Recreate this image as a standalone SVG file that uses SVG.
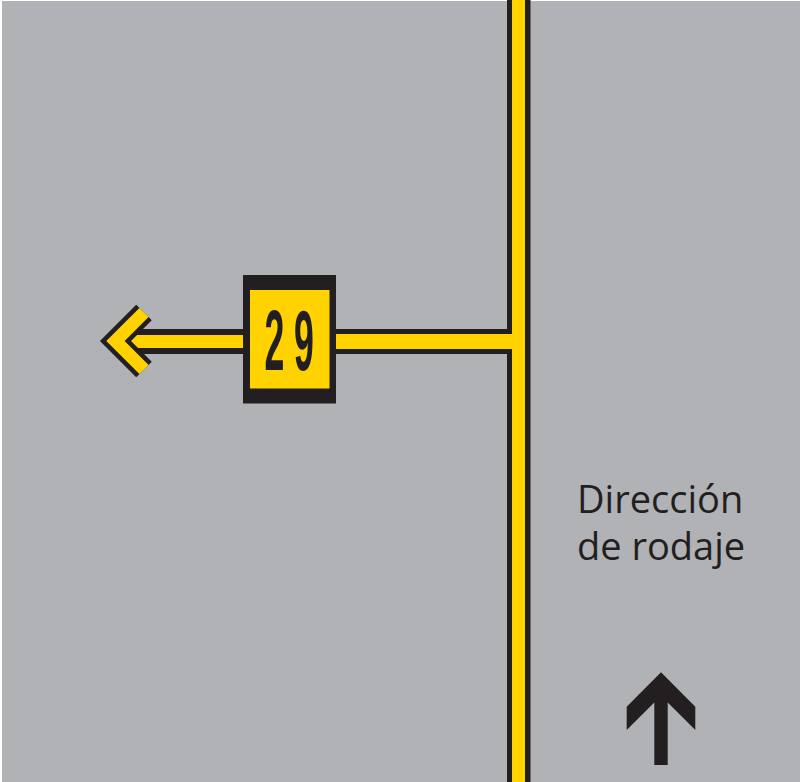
<svg xmlns="http://www.w3.org/2000/svg" width="800" height="782" viewBox="0 0 800 782">
<defs>
<style>
.blk{stroke:#231f20;fill:none;stroke-linecap:butt;stroke-linejoin:miter;stroke-miterlimit:10}
.yel{stroke:#ffd200;fill:none;stroke-linecap:butt;stroke-linejoin:miter;stroke-miterlimit:10}
.lbl{font-family:"Open Sans","Noto Sans","DejaVu Sans",sans-serif;font-size:38px;fill:#231f20}
.num{font-family:"Liberation Sans",Arial,sans-serif;font-weight:bold;font-size:85px;fill:#231f20}
</style>
</defs>
<rect x="0" y="0" width="800" height="782" fill="#ffffff"/>
<rect x="2" y="1" width="798" height="781" fill="#b1b2b6"/>
<g id="connectors">
<line class="blk" x1="518.75" y1="0" x2="518.75" y2="782" stroke-width="23.5"/>
<line class="blk" x1="125" y1="341.5" x2="243" y2="341.5" stroke-width="25"/>
<line class="blk" x1="335" y1="341.5" x2="513" y2="341.5" stroke-width="25"/>
<line class="yel" x1="518.5" y1="0" x2="518.5" y2="782" stroke-width="13"/>
<line class="yel" x1="125" y1="341.5" x2="243" y2="341.5" stroke-width="13"/>
<line class="yel" x1="335" y1="341.5" x2="514" y2="341.5" stroke-width="15"/>
</g>
<g id="chevron">
<polyline class="blk" points="144,312.5 115.5,341 144,369.5" stroke-width="22"/>
<polyline class="yel" points="144,312.5 115.5,341 144,369.5" stroke-width="13"/>
</g>
<g id="sign">
<rect x="243" y="275" width="93" height="128.5" fill="#231f20"/>
<rect x="250" y="290" width="79.5" height="98.5" fill="#ffd200"/>
<text class="num" transform="translate(0,370) scale(0.42,1)" x="653.6 723.8" y="0" text-anchor="middle">29</text>
</g>
<g id="label">
<text class="lbl" x="577" y="513">Dirección</text>
<text class="lbl" x="577" y="560">de rodaje</text>
</g>
<g id="up-arrow">
<polygon fill="#231f20" points="661,672.3 695.3,706.7 695.3,730 667.7,702.4 667.7,765 654.3,765 654.3,702.4 626.7,730 626.7,706.7"/>
</g>
</svg>
